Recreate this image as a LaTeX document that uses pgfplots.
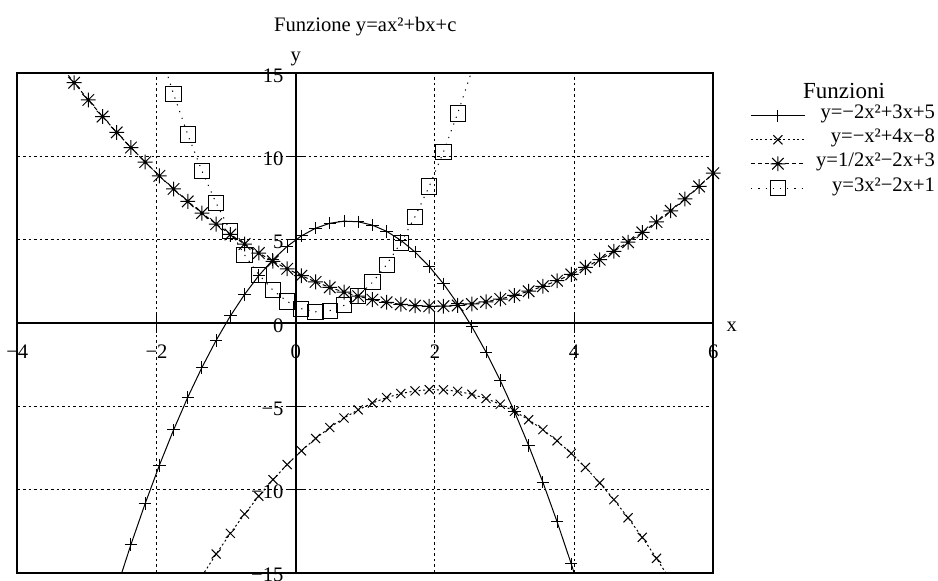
\documentclass[border=0pt]{standalone}
\usepackage{fontspec}
\setmainfont{Liberation Serif}
\usepackage{pgfplots}
\pgfplotsset{compat=1.18}

% eight-armed asterisk: a plus sign and a cross on top of each other
\pgfdeclareplotmark{star8}{%
  \pgfpathmoveto{\pgfqpoint{-\pgfplotmarksize}{0pt}}%
  \pgfpathlineto{\pgfqpoint{\pgfplotmarksize}{0pt}}%
  \pgfpathmoveto{\pgfqpoint{0pt}{-\pgfplotmarksize}}%
  \pgfpathlineto{\pgfqpoint{0pt}{\pgfplotmarksize}}%
  \pgfpathmoveto{\pgfqpoint{-0.78\pgfplotmarksize}{-0.78\pgfplotmarksize}}%
  \pgfpathlineto{\pgfqpoint{0.78\pgfplotmarksize}{0.78\pgfplotmarksize}}%
  \pgfpathmoveto{\pgfqpoint{-0.78\pgfplotmarksize}{0.78\pgfplotmarksize}}%
  \pgfpathlineto{\pgfqpoint{0.78\pgfplotmarksize}{-0.78\pgfplotmarksize}}%
  \pgfusepathqstroke}

\begin{document}
\fontsize{10.3}{12.4}\selectfont
\begin{tikzpicture}
\useasboundingbox (0,0) rectangle (469pt,290.5pt);
\begin{axis}[
  at={(8.65pt,4.15pt)}, anchor=south west,
  scale only axis, width=348pt, height=249.7pt,
  xmin=-4, xmax=6, ymin=-15, ymax=15,
  axis lines=middle,
  axis line style={-, line width=0.85pt, black},
  hide obscured x ticks=false, hide obscured y ticks=false,
  xtick={-4,-2,0,2,4,6}, xticklabels={−4,−2,0,2,4,6},
  ytick={-15,-10,-5,0,5,10,15}, yticklabels={−15,−10,−5,0,5,10,15},
  tick align=center, major tick length=10pt,
  tick style={line width=0.5pt, black},
  grid=major,
  major grid style={black, line width=0.5pt, dash pattern=on 1.3pt off 1.5pt},
  xticklabel style={anchor=north, yshift=-2.2pt},
  yticklabel style={anchor=east, yshift=-1.2pt, xshift=2.5pt},
  title={Funzione y=ax²+bx+c},
  title style={at={(0.5,1)}, anchor=base, yshift=15pt},
  xlabel={x}, ylabel={y},
  every axis x label/.style={at={(axis description cs:1,0.5)}, anchor=base, xshift=9.2pt, yshift=-4.5pt},
  every axis y label/.style={at={(axis description cs:0.4,1)}, anchor=base, yshift=5.8pt},
  legend cell align=right,
  legend style={draw=none, fill=none, at={(axis description cs:1.3185,0.937)},
    anchor=north east, inner sep=0pt, outer sep=0pt, row sep=3pt, column sep=5.5pt,
    nodes={inner sep=0pt, text height=7pt, text depth=2pt}},
  % line sample with one mark in its middle
  legend image code/.code={%
    \draw[#1, yshift=-1pt, mark=none] (0pt,0pt) -- (26.7pt,0pt);
    \draw[#1, yshift=-1pt] plot coordinates {(13.35pt,0pt)};},
  after end axis/.code={\draw[line width=0.85pt] (rel axis cs:0,0) rectangle (rel axis cs:1,1);},
]

% y = -2x^2 + 3x + 5
\addplot[black, line width=0.5pt, mark=+, mark size=3.1pt,
  mark options={solid, line width=0.5pt}, mark indices={1,...,32}] coordinates {
(-2.57143,-15.93877) (-2.36735,-13.31071) (-2.16327,-10.84925) (-1.95918,-8.55434)
(-1.75510,-6.42606) (-1.55102,-4.46438) (-1.34694,-2.66930) (-1.14286,-1.04082)
(-0.93878,0.42106) (-0.73469,1.71637) (-0.53061,2.84507) (-0.32653,3.80717)
(-0.12245,4.60267) (0.08163,5.23157) (0.28571,5.69387) (0.48980,5.98960)
(0.69388,6.11870) (0.89796,6.08122) (1.10204,5.87714) (1.30612,5.50644)
(1.51020,4.96916) (1.71429,4.26531) (1.91837,3.39485) (2.12245,2.35777)
(2.32653,1.15411) (2.53061,-0.21617) (2.73469,-1.75303) (2.93878,-3.45646)
(3.14286,-5.32652) (3.34694,-7.36318) (3.55102,-9.56642) (3.75510,-11.93628)
(3.95918,-14.47272) (4.16327,-17.17575)};
\addlegendentry{y=−2x²+3x+5}

% y = -x^2 + 4x - 8
\addplot[black, line width=0.5pt, dash pattern=on 1pt off 1.3pt, mark=x, mark size=3.2pt,
  mark options={solid, line width=0.5pt}, mark indices={1,...,32}] coordinates {
(-1.34694,-15.20200) (-1.14286,-13.87756) (-0.93878,-12.63642) (-0.73469,-11.47854)
(-0.53061,-10.40399) (-0.32653,-9.41274) (-0.12245,-8.50479) (0.08163,-7.68014)
(0.28571,-6.93879) (0.48980,-6.28070) (0.69388,-5.70595) (0.89796,-5.21449)
(1.10204,-4.80633) (1.30612,-4.48148) (1.51020,-4.23992) (1.71429,-4.08162)
(1.91837,-4.00665) (2.12245,-4.01499) (2.32653,-4.10662) (2.53061,-4.28156)
(2.73469,-4.53979) (2.93878,-4.88128) (3.14286,-5.30611) (3.34694,-5.81424)
(3.55102,-6.40566) (3.75510,-7.08039) (3.95918,-7.83841) (4.16327,-8.67970)
(4.36735,-9.60432) (4.57143,-10.61224) (4.77551,-11.70346) (4.97959,-12.87798)
(5.18367,-14.13579) (5.38776,-15.47687)};
\addlegendentry{y=−x²+4x−8}

% y = x^2/2 - 2x + 3
\addplot[black, line width=0.5pt, dash pattern=on 2pt off 1.4pt, mark=star8, mark size=3.7pt,
  mark options={solid, line width=0.5pt}, mark indices={1,...,46}] coordinates {
(-3.38776,15.51396) (-3.18367,14.43523) (-2.97959,13.39817) (-2.77551,12.40275)
(-2.57143,11.44898) (-2.36735,10.53687) (-2.16327,9.66640) (-1.95918,8.83756)
(-1.75510,8.05039) (-1.55102,7.30487) (-1.34694,6.60100) (-1.14286,5.93878)
(-0.93878,5.31821) (-0.73469,4.73927) (-0.53061,4.20200) (-0.32653,3.70637)
(-0.12245,3.25240) (0.08163,2.84007) (0.28571,2.46940) (0.48980,2.14035)
(0.69388,1.85298) (0.89796,1.60725) (1.10204,1.40317) (1.30612,1.24074)
(1.51020,1.11996) (1.71429,1.04081) (1.91837,1.00333) (2.12245,1.00750)
(2.32653,1.05331) (2.53061,1.14078) (2.73469,1.26990) (2.93878,1.44064)
(3.14286,1.65306) (3.34694,1.90712) (3.55102,2.20283) (3.75510,2.54020)
(3.95918,2.91921) (4.16327,3.33985) (4.36735,3.80216) (4.57143,4.30612)
(4.77551,4.85173) (4.97959,5.43899) (5.18367,6.06790) (5.38776,6.73844)
(5.59184,7.45064) (5.79592,8.20450) (6,9)};
\addlegendentry{y=1/2x²−2x+3}

% y = 3x^2 - 2x + 1
\addplot[black, line width=0.5pt, dash pattern=on 0.6pt off 3pt, mark=square, mark size=3.8pt,
  mark options={solid, line width=0.5pt}, mark indices={1,...,21}] coordinates {
(-1.95918,16.43356) (-1.75510,13.75134) (-1.55102,11.31902) (-1.34694,9.13660)
(-1.14286,7.20408) (-0.93878,5.52146) (-0.73469,4.08872) (-0.53061,2.90587)
(-0.32653,1.97292) (-0.12245,1.28987) (0.08163,0.85672) (0.28571,0.67347)
(0.48980,0.74010) (0.69388,1.05665) (0.89796,1.62307) (1.10204,2.43939)
(1.30612,3.50564) (1.51020,4.82176) (1.71429,6.38776) (1.91837,8.20365)
(2.12245,10.26947) (2.32653,12.58516) (2.53061,15.15078)};
\addlegendentry{y=3x²−2x+1}

\end{axis}
\node[anchor=base, font=\fontsize{11.5}{13}\selectfont] at (422pt,241.35pt) {Funzioni};
\end{tikzpicture}
\end{document}
